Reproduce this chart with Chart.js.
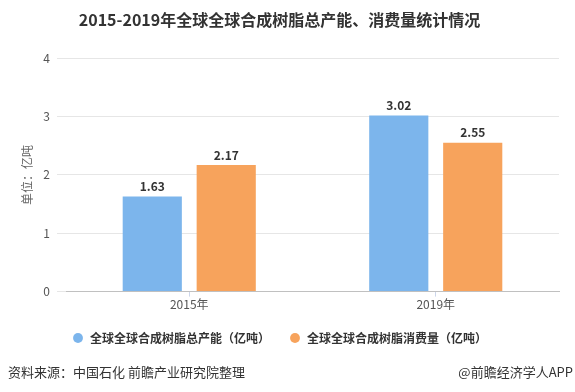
<!DOCTYPE html>
<html>
<head>
<meta charset="utf-8">
<script src="https://cdn.jsdelivr.net/npm/chart.js@4/dist/chart.umd.min.js"></script>
<style>
  body { margin: 0; background: #fff; }
  #wrap { width: 575px; height: 392px; }
</style>
</head>
<body>
<div id="wrap"><canvas id="c" width="575" height="392"></canvas></div>
<script>
// chart data
const years = ["2015年", "2019年"];
const capacity = [1.63, 3.02];     // 全球合成树脂总产能（亿吨）
const consumption = [2.17, 2.55];  // 全球合成树脂消费量（亿吨）
const yTicks = [0, 1, 2, 3, 4];

const FONT = '"Noto Sans CJK SC", "Noto Sans", sans-serif';

// value labels above each bar
const barLabels = {
  id: "barLabels",
  afterDatasetsDraw(chart) {
    const ctx = chart.ctx;
    ctx.save();
    ctx.font = "bold 12px " + FONT;
    ctx.fillStyle = "#333";
    ctx.textAlign = "center";
    ctx.textBaseline = "bottom";
    chart.data.datasets.forEach((ds, i) => {
      chart.getDatasetMeta(i).data.forEach((bar, j) => {
        ctx.fillText(ds.data[j].toFixed(2), bar.x, bar.y - 4);
      });
    });
    ctx.restore();
  },
};

// source line at the bottom
const sourceNote = {
  id: "sourceNote",
  afterDraw(chart) {
    const ctx = chart.ctx;
    ctx.save();
    ctx.font = "13px " + FONT;
    ctx.fillStyle = "#333";
    ctx.textBaseline = "middle";
    ctx.textAlign = "left";
    ctx.fillText("资料来源：中国石化 前瞻产业研究院整理", 8, 372);
    ctx.textAlign = "right";
    ctx.fillText("@前瞻经济学人APP", 573, 372);
    ctx.restore();
  },
};

new Chart(document.getElementById("c"), {
  type: "bar",
  data: {
    labels: years,
    datasets: [
      {
        label: "全球全球合成树脂总产能（亿吨）",
        data: capacity,
        backgroundColor: "#7cb5ec",
      },
      {
        label: "全球全球合成树脂消费量（亿吨）",
        data: consumption,
        backgroundColor: "#f7a35c",
      },
    ],
  },
  options: {
    responsive: false,
    animation: false,
    categoryPercentage: 0.6,
    barPercentage: 0.8,
    layout: { padding: { left: 0, right: 16, bottom: 38 } },
    scales: {
      x: {
        grid: {
          drawOnChartArea: false,
          drawTicks: true,
          tickLength: 5,
          offset: false,
          color: "#ccd6eb",
        },
        border: { display: true, color: "#c0c0c0" },
        ticks: { font: { family: FONT, size: 12 }, color: "#555", padding: 1 },
      },
      y: {
        min: 0,
        max: 4,
        afterBuildTicks(scale) {
          scale.ticks = yTicks.map((v) => ({ value: v }));
        },
        afterFit(scale) {
          scale.width = 66;
        },
        grid: { color: "#e6e6e6", tickLength: 9, tickColor: "#e6e6e6" },
        border: { display: false },
        ticks: { font: { family: FONT, size: 12 }, color: "#555", padding: 7 },
        title: {
          display: true,
          text: "单位：亿吨",
          font: { family: FONT, size: 12 },
          color: "#666",
          padding: { top: 20, bottom: 0 },
        },
      },
    },
    plugins: {
      title: {
        display: true,
        text: "2015-2019年全球全球合成树脂总产能、消费量统计情况",
        font: { family: FONT, size: 16, weight: "bold" },
        color: "#333",
        padding: { top: 10, bottom: 29 },
      },
      legend: {
        position: "bottom",
        labels: {
          usePointStyle: true,
          pointStyle: "circle",
          boxWidth: 12,
          boxHeight: 7,
          padding: 19,
          font: { family: FONT, size: 12, weight: "bold" },
          color: "#333",
        },
      },
      tooltip: { enabled: false },
    },
  },
  plugins: [barLabels, sourceNote],
});
</script>
</body>
</html>
